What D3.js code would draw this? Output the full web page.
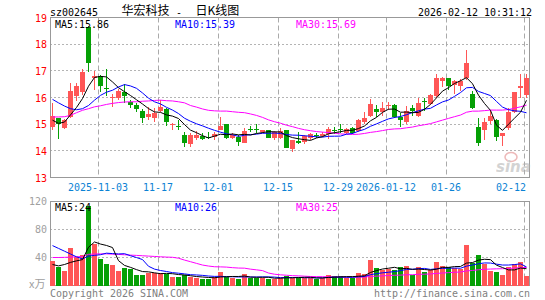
<!DOCTYPE html>
<html>
<head>
<meta charset="utf-8">
<script src="https://d3js.org/d3.v7.min.js"></script>
<style>
body { margin: 0; background: #fff; }
svg { display: block; }
</style>
</head>
<body>
<svg id="grafico"></svg>
<script>
const dates = [
    '2025-10-22', '2025-10-23', '2025-10-24', '2025-10-27', '2025-10-28', '2025-10-29', '2025-10-30', '2025-10-31',
    '2025-11-03', '2025-11-04', '2025-11-05', '2025-11-06', '2025-11-07', '2025-11-10', '2025-11-11', '2025-11-12',
    '2025-11-13', '2025-11-14', '2025-11-17', '2025-11-18', '2025-11-19', '2025-11-20', '2025-11-21', '2025-11-24',
    '2025-11-25', '2025-11-26', '2025-11-27', '2025-11-28', '2025-12-01', '2025-12-02', '2025-12-03', '2025-12-04',
    '2025-12-05', '2025-12-08', '2025-12-09', '2025-12-10', '2025-12-11', '2025-12-12', '2025-12-15', '2025-12-16',
    '2025-12-17', '2025-12-18', '2025-12-19', '2025-12-22', '2025-12-23', '2025-12-24', '2025-12-25', '2025-12-26',
    '2025-12-29', '2025-12-30', '2025-12-31', '2026-01-05', '2026-01-06', '2026-01-07', '2026-01-08', '2026-01-09',
    '2026-01-12', '2026-01-13', '2026-01-14', '2026-01-15', '2026-01-16', '2026-01-19', '2026-01-20', '2026-01-21',
    '2026-01-22', '2026-01-23', '2026-01-26', '2026-01-27', '2026-01-28', '2026-01-29', '2026-01-30', '2026-02-02',
    '2026-02-03', '2026-02-04', '2026-02-05', '2026-02-06', '2026-02-09', '2026-02-10', '2026-02-11', '2026-02-12'
];

const open = [
    14.90, 15.24, 14.87, 15.27, 16.07, 16.20, 18.66, 16.75, 16.82, 16.37,
    15.98, 16.00, 16.21, 15.84, 15.72, 15.50, 15.27, 15.25, 15.50, 15.56,
    14.98, 14.95, 14.58, 14.25, 14.50, 14.55, 14.52, 14.52, 14.80, 15.00,
    14.50, 14.52, 14.30, 14.83, 14.83, 14.72, 14.77, 14.47, 14.50, 14.77,
    14.08, 14.38, 14.33, 14.48, 14.60, 14.56, 14.62, 14.78, 14.83, 14.68,
    14.87, 14.73, 15.08, 15.30, 15.56, 15.46, 15.70, 15.72, 15.27, 15.08,
    15.59, 15.30, 15.88, 15.74, 16.05, 16.63, 16.72, 16.47, 16.44, 16.72,
    16.15, 14.90, 14.77, 15.12, 15.15, 14.56, 14.84, 15.46, 16.35, 16.09
];
const high = [
    15.80, 15.24, 15.20, 16.53, 16.55, 17.07, 18.67, 16.98, 16.85, 17.08,
    16.15, 16.33, 16.50, 15.90, 15.78, 15.55, 15.63, 15.60, 15.90, 15.60,
    15.05, 15.15, 14.70, 14.68, 14.75, 14.65, 14.72, 14.72, 15.27, 15.02,
    14.66, 14.58, 14.84, 14.94, 15.00, 14.80, 14.80, 14.76, 14.85, 14.80,
    14.42, 14.72, 14.60, 14.68, 14.68, 14.70, 14.90, 14.88, 15.02, 14.87,
    14.90, 15.18, 15.45, 15.94, 15.72, 15.84, 15.84, 15.74, 15.40, 15.67,
    15.72, 15.98, 15.97, 16.12, 16.90, 16.78, 16.75, 16.66, 16.68, 17.79,
    16.24, 15.23, 15.25, 15.52, 15.20, 14.67, 15.62, 16.22, 16.87, 16.90
];
const low = [
    14.77, 14.45, 14.83, 15.22, 15.88, 16.10, 16.97, 16.28, 16.21, 16.05,
    15.63, 15.90, 15.78, 15.62, 15.46, 15.05, 15.15, 15.08, 15.47, 14.92,
    14.78, 14.80, 14.14, 14.16, 14.40, 14.40, 14.43, 14.40, 14.78, 14.43,
    14.43, 14.20, 14.28, 14.70, 14.68, 14.65, 14.47, 14.42, 14.45, 14.10,
    13.95, 14.24, 14.27, 14.42, 14.50, 14.52, 14.46, 14.62, 14.66, 14.62,
    14.63, 14.70, 15.00, 15.28, 15.28, 15.30, 15.52, 15.22, 14.90, 15.02,
    15.30, 15.27, 15.50, 15.72, 16.00, 16.40, 16.28, 16.15, 16.25, 16.65,
    15.58, 14.20, 14.40, 15.00, 14.36, 14.18, 14.80, 15.43, 16.00, 16.00
];
const close = [
    15.30, 15.00, 15.15, 16.24, 16.44, 16.97, 17.31, 16.80, 16.44, 16.34,
    16.03, 16.23, 16.05, 15.72, 15.55, 15.23, 15.37, 15.43, 15.63, 15.08,
    15.00, 14.92, 14.30, 14.58, 14.60, 14.45, 14.49, 14.64, 14.93, 14.50,
    14.60, 14.33, 14.73, 14.80, 14.79, 14.77, 14.50, 14.71, 14.76, 14.12,
    14.39, 14.28, 14.54, 14.62, 14.58, 14.64, 14.81, 14.75, 14.80, 14.83,
    14.66, 15.14, 15.23, 15.77, 15.47, 15.60, 15.73, 15.27, 15.17, 15.50,
    15.48, 15.79, 15.85, 16.09, 16.72, 16.75, 16.44, 16.63, 16.60, 17.30,
    15.61, 14.29, 15.08, 15.30, 14.52, 14.65, 15.45, 16.20, 16.42, 16.75
];
const volume = [
    35, 26, 21, 53, 41, 44, 114, 59, 38, 31,
    29, 20.5, 25, 24, 15, 15, 18.5, 18, 18, 17,
    12.6, 12.6, 15, 12.6, 11.2, 9.3, 9.3, 12.6, 18.7, 12.6,
    11.2, 9.3, 15.9, 11.2, 11.2, 11.2, 9.3, 9.3, 11.2, 14,
    11.2, 11.2, 11.2, 11.2, 9.3, 11.2, 15, 13, 13, 11.2,
    11.2, 17.8, 15.9, 37, 24.5, 22.5, 23.5, 22.5, 26, 28,
    15, 26, 19, 22.5, 34, 28, 26, 24.5, 23.5, 58,
    32, 43, 31, 20.6, 18.7, 15, 26, 31, 34, 14
];

// averages at the left edge, where the earlier sessions are not on the chart
const ma5Head = [15.15, 15.03, 15.08, 15.35];
const ma10Head = [15.93, 15.80, 15.68, 15.58, 15.54, 15.58, 15.70, 15.90, 16.08];
const ma30Head = [
    15.27, 15.27, 15.28, 15.33, 15.43, 15.52, 15.58, 15.65, 15.69, 15.74,
    15.78, 15.81, 15.83, 15.84, 15.84, 15.86, 15.87, 15.89, 15.90, 15.88,
    15.87, 15.84, 15.80, 15.70, 15.64, 15.57, 15.52, 15.50, 15.49
];
const vma5Head = [30, 28, 30, 33];
const vma10Head = [57, 53, 49, 45, 41, 38, 42, 43, 44];
const vma30Head = [
    40, 40, 40.2, 40.5, 41, 41.5, 44.5, 45, 45.2, 45.2,
    44.8, 44.4, 43.9, 43.4, 43, 42.5, 42, 41.5, 41, 40.6,
    40.3, 39, 36.3, 34, 31.6, 29.2, 27.8, 26.8, 26.6
];

const tickDates = ['2025-11-03', '2025-11-17', '2025-12-01', '2025-12-15', '2025-12-29', '2026-01-12', '2026-01-26', '2026-02-12'];
const tickLabels = ['2025-11-03', '11-17', '12-01', '12-15', '12-29', '2026-01-12', '01-26', '02-12'];
const priceTicks = [19, 18, 17, 16, 15, 14, 13];
const volumeTicks = [120, 80, 40];
const priceMaLegend = ['MA5:15.86', 'MA10:15.39', 'MA30:15.69'];
const volumeMaLegend = ['MA5:24', 'MA10:26', 'MA30:25'];

const mono = "'DejaVu Sans Mono', 'Liberation Mono', monospace";
const cjk = "'Noto Sans CJK SC', sans-serif";
const red = '#ff5656';
const green = '#05a005';
const maColors = ['#000000', '#0000ff', '#ff00ff'];

let svg = d3.select('#grafico').attr('width', 545).attr('height', 300);

let area = { esquerda: 50, direita: 530, topo: 17.5, base: 177.5, volTopo: 201.5, volBase: 285.5 };

let fnX = d3.scaleBand().domain(dates).range([area.esquerda, area.direita]);
let fnY = d3.scaleLinear().domain([13, 19]).range([area.base, area.topo]);
let fnV = d3.scaleLinear().domain([0, 120]).range([area.volBase, area.volTopo]);

function texto(str, x, y, cor) {
    return svg.append('text')
        .attr('x', x).attr('y', y)
        .attr('fill', cor)
        .style('font-family', mono)
        .style('font-size', '11px')
        .attr('textLength', str.length * 6)
        .attr('lengthAdjust', 'spacingAndGlyphs')
        .text(str);
}

function media(valores, n, inicio) {
    return valores.map((v, i) => i < n - 1 ? inicio[i] : d3.mean(valores.slice(i - n + 1, i + 1)));
}

const crisp = v => Math.round(v) + 0.5;

// header
texto('sz002645', 50, 15.5, '#000');
svg.append('text').attr('x', 121.5).attr('y', 15).style('font-family', cjk).style('font-size', '12px').text('华宏科技');
texto('-', 176, 15.5, '#000');
svg.append('text').attr('x', 195.5).attr('y', 15).style('font-family', cjk).style('font-size', '12px').text('日K线图');
texto('2026-02-12 10:31:12', 418, 15.5, '#000');

// grids
let grade = svg.append('g');
grade.selectAll('.gy').data(priceTicks.slice(1, -1)).enter().append('line')
    .attr('x1', area.esquerda).attr('x2', area.direita)
    .attr('y1', d => crisp(fnY(d) - 0.5)).attr('y2', d => crisp(fnY(d) - 0.5))
    .attr('stroke', '#b4b4b4').attr('stroke-dasharray', '2,2');
grade.selectAll('.gv').data(volumeTicks.slice(1)).enter().append('line')
    .attr('x1', area.esquerda).attr('x2', area.direita)
    .attr('y1', d => crisp(fnV(d) - 0.5)).attr('y2', d => crisp(fnV(d) - 0.5))
    .attr('stroke', '#b4b4b4').attr('stroke-dasharray', '2,2');
tickDates.forEach(d => {
    let x = fnX(d) + 0.5;
    [[area.topo, area.base], [area.volTopo, area.volBase]].forEach(([a, b]) => {
        grade.append('line').attr('x1', x).attr('x2', x).attr('y1', a).attr('y2', b)
            .attr('stroke', '#aaaaaa').attr('stroke-dasharray', '5,3');
    });
});

// frames
[[area.topo, area.base], [area.volTopo, area.volBase]].forEach(([a, b]) => {
    svg.append('rect').attr('x', area.esquerda + 0.5).attr('y', a)
        .attr('width', area.direita - area.esquerda - 1).attr('height', b - a)
        .attr('fill', 'none').attr('stroke', '#999999');
});

// axis labels
priceTicks.forEach(v => texto(String(v), 47 - String(v).length * 6, fnY(v) + 4, '#ff0000'));
volumeTicks.forEach(v => texto(String(v), 47 - String(v).length * 6, fnV(v) + 3.5, '#a0a0a0'));
svg.append('text').attr('x', 29).attr('y', 288).attr('fill', '#a0a0a0')
    .style('font-family', cjk).style('font-size', '11px').text('x万');

tickDates.forEach((d, i) => {
    let w = tickLabels[i].length * 6;
    let x = Math.min(fnX(d) - w / 2, 526 - w);
    texto(tickLabels[i], x, 190.5, '#0b82d4');
});

// watermark
let marca = svg.append('g').attr('opacity', 0.55);
marca.append('ellipse').attr('cx', 511).attr('cy', 157).attr('rx', 6).attr('ry', 4.5)
    .attr('fill', 'none').attr('stroke', '#e08080').attr('stroke-width', 1.5);
marca.append('text').attr('x', 496).attr('y', 172).attr('fill', '#b0b0b0')
    .style('font-family', 'DejaVu Sans').style('font-size', '15px')
    .style('font-style', 'italic').style('font-weight', 'bold').text('sina');

// candles
let corDe = i => close[i] >= open[i] ? red : green;
let velas = svg.append('g').attr('shape-rendering', 'crispEdges');
dates.forEach((d, i) => {
    let x = fnX(d);
    let yH = Math.round(fnY(high[i])), yL = Math.round(fnY(low[i]));
    velas.append('rect').attr('x', x + 2).attr('width', 1)
        .attr('y', yH).attr('height', Math.max(1, yL - yH)).attr('fill', corDe(i));
    let yT = Math.round(fnY(Math.max(open[i], close[i])));
    let yB = Math.round(fnY(Math.min(open[i], close[i])));
    velas.append('rect').attr('x', x).attr('width', 5)
        .attr('y', yT).attr('height', Math.max(1, yB - yT)).attr('fill', corDe(i));
});

// volume bars
svg.append('g').attr('shape-rendering', 'crispEdges')
    .selectAll('rect').data(volume).enter().append('rect')
    .attr('x', (v, i) => fnX(dates[i]))
    .attr('width', 5)
    .attr('y', v => Math.round(fnV(v)))
    .attr('height', v => Math.round(fnV(0)) - Math.round(fnV(v)))
    .attr('fill', (v, i) => corDe(i));

// moving averages
let precoMedias = [media(close, 5, ma5Head), media(close, 10, ma10Head), media(close, 30, ma30Head)];
let volMedias = [media(volume, 5, vma5Head), media(volume, 10, vma10Head), media(volume, 30, vma30Head)];

let linhaPreco = d3.line().x((v, i) => fnX(dates[i]) + 2.5).y(v => fnY(v));
let linhaVol = d3.line().x((v, i) => fnX(dates[i]) + 2.5).y(v => fnV(v));

[2, 1, 0].forEach(k => {
    svg.append('path').attr('d', linhaPreco(precoMedias[k]))
        .attr('fill', 'none').attr('stroke', maColors[k]).attr('stroke-width', 1);
    svg.append('path').attr('d', linhaVol(volMedias[k]))
        .attr('fill', 'none').attr('stroke', maColors[k]).attr('stroke-width', 1);
});

// legends
let legendaX = [55, 175, 296];
priceMaLegend.forEach((s, k) => texto(s, legendaX[k], 28, maColors[k]));
volumeMaLegend.forEach((s, k) => texto(s, legendaX[k], 211, maColors[k]));

// footer
texto('Copyright 2026 SINA.COM', 50, 296.5, '#808080');
texto('http://finance.sina.com.cn', 374, 296.5, '#808080');
</script>
</body>
</html>
